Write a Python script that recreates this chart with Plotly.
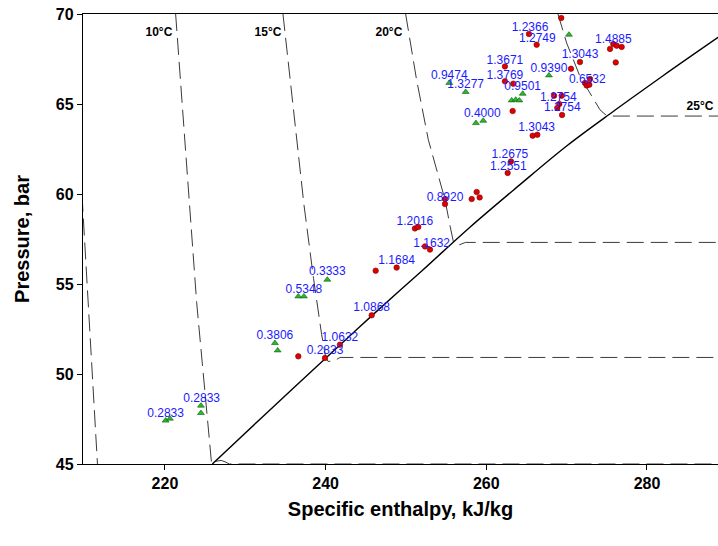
import plotly.graph_objects as go

# ---- data ----
red_h = [269.33, 265.31, 266.27, 275.81, 276.23, 275.40, 276.85, 276.11, 271.66, 270.54,
         262.32, 272.28, 272.49, 272.82, 272.91, 262.32, 263.36, 268.43, 269.38, 269.09,
         268.84, 269.43, 263.28, 265.77, 266.35, 263.07, 262.66, 258.80, 258.18, 259.17,
         254.86, 254.86, 251.12, 251.53, 252.37, 252.99, 246.23, 248.84, 245.73, 241.78,
         236.60, 239.92]
red_p = [69.78, 68.89, 68.29, 68.33, 68.24, 68.06, 68.17, 67.31, 67.33, 66.96,
         67.09, 66.17, 66.03, 66.07, 66.39, 66.26, 66.13, 65.46, 65.46, 65.00,
         64.78, 64.39, 64.61, 63.24, 63.29, 61.81, 61.17, 60.11, 59.72, 59.81,
         59.72, 59.44, 58.09, 58.17, 57.09, 56.91, 55.74, 55.91, 53.26, 51.63,
         50.98, 50.89]

green_h = [270.29, 267.80, 255.39, 257.43, 263.16, 263.66, 264.11, 264.53, 258.71, 259.62,
           240.21, 236.60, 237.30, 233.69, 234.03, 224.48, 224.48, 220.08, 220.62]
green_p = [68.85, 66.59, 66.17, 65.67, 65.20, 65.24, 65.20, 65.57, 63.94, 64.07,
           55.24, 54.31, 54.31, 51.72, 51.31, 48.24, 47.83, 47.41, 47.52]

label_text = ["1.2366", "1.2749", "1.4885", "1.3043", "1.3671", "0.9390", "0.9474", "1.3769",
              "1.3277", "0.6532", "0.9501", "1.2754", "1.2754", "0.4000", "1.3043", "1.2675",
              "1.2551", "0.8920", "1.2016", "1.1632", "1.1684", "0.3333", "0.5348", "1.0868",
              "0.3806", "1.0632", "0.2833", "0.2833", "0.2833"]
label_h = [265.44, 266.35, 275.81, 271.66, 262.32, 267.80, 255.39, 262.32,
           257.43, 272.57, 264.53, 268.96, 269.46, 259.50, 266.27, 262.94,
           262.74, 254.86, 251.12, 253.20, 248.84, 240.21, 237.30, 245.73,
           233.69, 241.78, 239.92, 224.57, 220.08]
label_p = [69.22, 68.61, 68.57, 67.74, 67.41, 66.94, 66.53, 66.57,
           66.06, 66.35, 65.92, 65.31, 64.76, 64.44, 63.67, 62.18,
           61.50, 59.78, 58.44, 57.24, 56.26, 55.64, 54.68, 53.67,
           52.09, 52.00, 51.29, 48.61, 47.78]

# saturated liquid line
sat_h = [225.9, 232, 240, 246, 252, 258, 264, 270, 276, 282, 289.5]
sat_p = [45.0, 47.56, 50.88, 53.34, 55.74, 58.17, 60.45, 62.67, 64.65, 66.57, 68.9]

# isotherms
iso5_h = [209.5, 210.6, 211.6]
iso5_p = [61.3, 53.0, 45.0]
iso10_h = [221.33, 222.6, 223.95, 225.0, 225.81, 226.3, 227.0, 227.6, 228.0, 289.5]
iso10_p = [70.0, 62.0, 53.96, 48.9, 45.0, 45.15, 45.2, 45.1, 45.0, 45.0]
iso15_h = [234.69, 236.0, 237.3, 238.5, 239.5, 240.0, 240.3, 241.0, 241.8, 289.5]
iso15_p = [70.0, 64.5, 59.41, 55.3, 52.2, 50.95, 50.7, 50.72, 50.92, 50.92]
iso20_h = [249.96, 251.3, 252.78, 254.0, 254.86, 255.5, 255.9, 256.5, 257.4, 289.5]
iso20_p = [70.0, 66.4, 63.02, 61.1, 59.68, 58.2, 57.35, 57.15, 57.31, 57.31]
iso25_h = [268.92, 270.0, 271.66, 273.12, 274.15, 274.8, 275.6, 289.5]
iso25_p = [70.0, 68.39, 66.53, 65.42, 64.68, 64.42, 64.33, 64.33]

iso_label_text = ["10°C", "15°C", "20°C", "25°C"]
iso_label_h = [219.25, 232.82, 247.88, 286.6]
iso_label_p = [68.96, 68.96, 68.96, 64.85]

FONT = "Liberation Sans, Arial, sans-serif"
DASH_COLOR = "#3a3a3a"

fig = go.Figure()

for hh, pp in [(iso5_h, iso5_p), (iso10_h, iso10_p), (iso15_h, iso15_p),
               (iso20_h, iso20_p), (iso25_h, iso25_p)]:
    fig.add_trace(go.Scatter(x=hh, y=pp, mode="lines",
                             line=dict(color=DASH_COLOR, width=1, dash="17px,7px"),
                             hoverinfo="skip", showlegend=False))

fig.add_trace(go.Scatter(x=sat_h, y=sat_p, mode="lines", line_shape="spline",
                         line=dict(color="black", width=1.4),
                         hoverinfo="skip", showlegend=False))

fig.add_trace(go.Scatter(x=red_h, y=red_p, mode="markers",
                         marker=dict(symbol="circle", size=5.5, color="#e00000",
                                     line=dict(color="#7a0000", width=0.6)),
                         showlegend=False))
fig.add_trace(go.Scatter(x=green_h, y=green_p, mode="markers",
                         marker=dict(symbol="triangle-up", size=6, color="#2fb52f",
                                     line=dict(color="#006000", width=0.6)),
                         showlegend=False))

fig.add_trace(go.Scatter(x=label_h, y=label_p, mode="text", text=label_text,
                         textposition="middle center",
                         textfont=dict(family=FONT, size=12, color="#1a1aff"),
                         showlegend=False, hoverinfo="skip"))

fig.add_trace(go.Scatter(x=iso_label_h, y=iso_label_p, mode="text", text=iso_label_text,
                         textposition="middle center",
                         textfont=dict(family=FONT, size=12, color="black", weight="bold"),
                         showlegend=False, hoverinfo="skip"))

fig.update_layout(
    width=718, height=546,
    margin=dict(l=83, r=0, t=14, b=82),
    plot_bgcolor="white", paper_bgcolor="white",
    font=dict(family=FONT, color="black"),
)
fig.update_xaxes(
    range=[209.8, 288.84], showgrid=False, zeroline=False, automargin=False,
    showline=True, linecolor="black", linewidth=1.3, mirror=True,
    ticks="outside", ticklen=5, tickwidth=1, tickcolor="black",
    tickvals=[220, 240, 260, 280],
    tickfont=dict(family=FONT, size=16, color="black", weight="bold"),
    title=dict(text="Specific enthalpy, kJ/kg",
               font=dict(family=FONT, size=20, color="black", weight="bold"),
               standoff=10),
)
fig.update_yaxes(
    range=[45, 70], showgrid=False, zeroline=False, automargin=False,
    showline=True, linecolor="black", linewidth=1.3,
    ticks="outside", ticklen=5, tickwidth=1, tickcolor="black",
    tickvals=[45, 50, 55, 60, 65, 70],
    tickfont=dict(family=FONT, size=16, color="black", weight="bold"),
    title=dict(text="Pressure, bar",
               font=dict(family=FONT, size=20, color="black", weight="bold"),
               standoff=20),
)

fig.write_html("out.html", config={"displayModeBar": False},
               post_script="document.body.style.margin='0';document.body.style.overflow='hidden';")
